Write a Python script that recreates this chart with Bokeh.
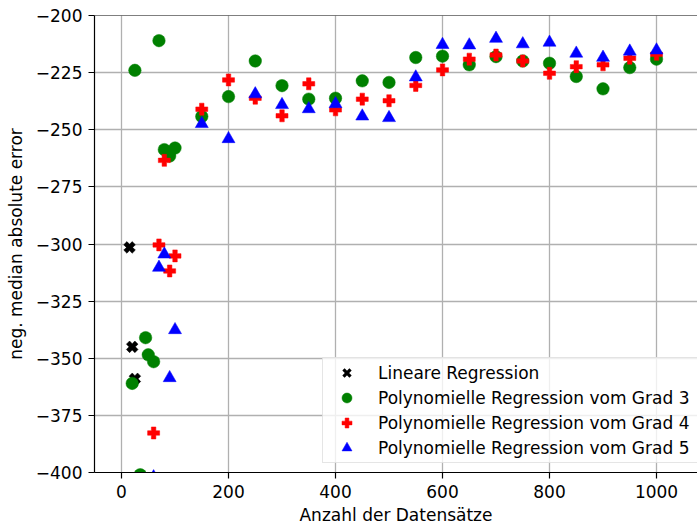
import numpy as np
from bokeh.plotting import figure
from bokeh.models import ColumnDataSource, Legend, LegendItem, FixedTicker, Span, Range1d
from bokeh.embed import file_html
from bokeh.resources import INLINE

# Number of records used for training (x) and negative median absolute error (y)
lin_n = [15, 20, 25]
lin_err = [-301.5, -345.0, -359.0]

poly3_n = [20, 25, 35, 45, 50, 60, 70, 80, 90, 100,
           150, 200, 250, 300, 350, 400, 450, 500, 550, 600,
           650, 700, 750, 800, 850, 900, 950, 1000]
poly3_err = [-361.0, -224.0, -401.0, -341.0, -348.5, -351.5, -211.0, -258.7, -261.5, -258.0,
             -244.2, -235.5, -219.9, -230.7, -236.6, -236.2, -228.6, -229.3, -218.4, -217.8,
             -221.6, -218.0, -219.9, -220.9, -226.7, -232.1, -222.8, -219.1]

poly4_n = [60, 70, 80, 90, 100,
           150, 200, 250, 300, 350, 400, 450, 500, 550, 600,
           650, 700, 750, 800, 850, 900, 950, 1000]
poly4_err = [-382.7, -300.4, -263.4, -311.8, -305.2,
             -241.0, -228.2, -236.2, -243.9, -229.9, -241.3, -236.6, -237.3, -230.6, -223.8,
             -219.1, -217.3, -219.9, -225.3, -222.4, -221.6, -218.7, -217.0]

poly5_n = [60, 70, 80, 90, 100,
           150, 200, 250, 300, 350, 400, 450, 500, 550, 600,
           650, 700, 750, 800, 850, 900, 950, 1000]
poly5_err = [-402.0, -310.3, -304.5, -358.6, -337.6,
             -247.4, -254.0, -234.4, -239.1, -240.9, -238.7, -244.1, -244.8, -227.0, -212.8,
             -213.0, -210.1, -212.5, -211.8, -216.6, -218.4, -215.7, -215.2]

x_ticks = [0, 200, 400, 600, 800, 1000]
y_ticks = [-400, -375, -350, -325, -300, -275, -250, -225, -200]

labels = ["Lineare Regression",
          "Polynomielle Regression vom Grad 3",
          "Polynomielle Regression vom Grad 4",
          "Polynomielle Regression vom Grad 5"]

FONT = "DejaVu Sans"

p = figure(width=697, height=527, output_backend="svg", toolbar_location=None,
           x_range=Range1d(-50.5, 1076.6), y_range=Range1d(-400, -200),
           min_border_left=94, min_border_right=0, min_border_top=15, min_border_bottom=53)
p.outline_line_color = None
p.background_fill_color = "white"
p.border_fill_color = "white"

# top spine
p.add_layout(Span(location=-200, dimension="width", line_color="black", line_width=1.2))

for ax in (p.xaxis[0], p.yaxis[0]):
    ax.axis_line_color = "black"
    ax.axis_line_width = 1.2
    ax.major_tick_line_color = "black"
    ax.major_tick_line_width = 1.2
    ax.major_tick_out = 6
    ax.major_tick_in = 0
    ax.minor_tick_line_color = None
    ax.major_label_text_font = FONT
    ax.major_label_text_font_size = "17px"
    ax.major_label_text_color = "black"
    ax.axis_label_text_font = FONT
    ax.axis_label_text_font_size = "17px"
    ax.axis_label_text_font_style = "normal"
    ax.axis_label_text_color = "black"

p.xaxis.ticker = FixedTicker(ticks=x_ticks)
p.yaxis.ticker = FixedTicker(ticks=y_ticks)
p.yaxis.major_label_overrides = {v: "\u2212%d" % abs(v) for v in y_ticks}
p.xaxis.axis_label = "Anzahl der Datensätze"
p.yaxis.axis_label = "neg. median absolute error"
p.xaxis.major_label_standoff = 6
p.yaxis.major_label_standoff = 6
p.xaxis.axis_label_standoff = 4
p.yaxis.axis_label_standoff = 7

p.xgrid.ticker = FixedTicker(ticks=x_ticks)
p.ygrid.ticker = FixedTicker(ticks=y_ticks)
for g in (p.xgrid[0], p.ygrid[0]):
    g.grid_line_color = "#b0b0b0"
    g.grid_line_width = 1.3

src_lin = ColumnDataSource(dict(x=lin_n, y=lin_err))
src_p3 = ColumnDataSource(dict(x=poly3_n, y=poly3_err))
src_p4 = ColumnDataSource(dict(x=poly4_n, y=poly4_err))
src_p5 = ColumnDataSource(dict(x=poly5_n, y=poly5_err))

# linear regression: thick X, built from a stroked "x" (also used as legend key)
# with a filled plus turned by 45 degrees on top for the solid shape
r_lin = p.scatter("x", "y", source=src_lin, marker="x",
                  size=10, line_color="black", line_width=3.2)
p.scatter("x", "y", source=src_lin, marker="plus", angle=np.pi / 4,
          size=12, fill_color="black", line_color="black", line_width=0.5)
r_p3 = p.scatter("x", "y", source=src_p3, marker="circle",
                 size=12.5, fill_color="#008000", line_color="#008000", line_width=0.5)
r_p4 = p.scatter("x", "y", source=src_p4, marker="plus",
                 size=12, fill_color="#ff0000", line_color="#ff0000", line_width=0.5)
r_p5 = p.scatter("x", "y", source=src_p5, marker="triangle",
                 size=13, fill_color="#0000ff", line_color="#0000ff", line_width=0.5)

legend = Legend(items=[LegendItem(label=labels[0], renderers=[r_lin]),
                       LegendItem(label=labels[1], renderers=[r_p3]),
                       LegendItem(label=labels[2], renderers=[r_p4]),
                       LegendItem(label=labels[3], renderers=[r_p5])],
                location=(228, 9))
legend.margin = 0
legend.padding = 2
legend.spacing = 0
legend.glyph_height = 25
legend.label_height = 25
legend.glyph_width = 43
legend.label_standoff = 10
legend.label_width = 330
legend.label_text_font = FONT
legend.label_text_font_size = "17px"
legend.label_text_color = "black"
legend.border_line_color = "#cccccc"
legend.border_line_width = 1
legend.background_fill_color = "white"
legend.background_fill_alpha = 0.8
p.add_layout(legend)

open("out.html", "w").write(file_html(p, INLINE))
